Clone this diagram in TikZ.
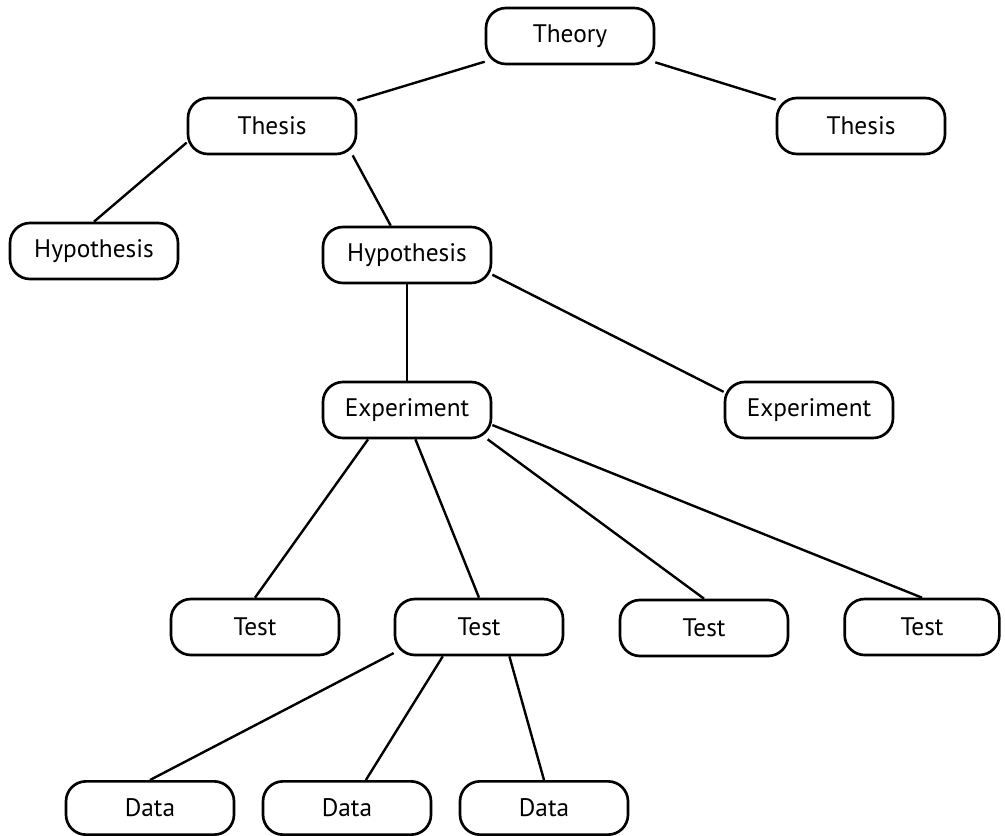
\documentclass[tikz,border=0pt]{standalone}
\usepackage{fontspec}
\setmainfont{PT Sans}
\begin{document}
\begin{tikzpicture}[x=0.75pt,y=-0.75pt,
  box/.style={draw=black, line width=2pt, rounded corners=15pt, fill=white,
    minimum width=126pt, minimum height=42pt, inner sep=0pt,
    font=\fontsize{19}{22}\selectfont},
  link/.style={line width=1.8pt, draw=black}]
\useasboundingbox (0,0) rectangle (1005,835);
\node[box] (theory) at (570,36) {Theory};
\node[box] (thL) at (272,126) {Thesis};
\node[box] (thR) at (861,126) {Thesis};
\node[box] (hypL) at (94,251) {Hypothesis};
\node[box] (hypM) at (407,255) {Hypothesis};
\node[box] (expM) at (407,410) {Experiment};
\node[box] (expR) at (809,410) {Experiment};
\node[box] (t1) at (255,627) {Test};
\node[box] (t2) at (479,627) {Test};
\node[box] (t3) at (704,628) {Test};
\node[box, minimum width=116pt] (t4) at (922,627) {Test};
\node[box, minimum height=40pt] (d1) at (150,808) {Data};
\node[box, minimum height=40pt] (d2) at (347,808) {Data};
\node[box, minimum height=40pt] (d3) at (544,808) {Data};
\draw[link] (theory) -- (thL);
\draw[link] (theory) -- (thR);
\draw[link] (thL.191) -- (hypL.north);
\draw[link] (thL.-20) -- (hypM.119);
\draw[link] (hypM.south) -- (expM.north);
\draw[link] (hypM.-13) -- (expR.168);
\draw[link] (expM.217) -- (t1.north);
\draw[link] (expM.-74) -- (t2.north);
\draw[link] (expM.-20) -- (t3.north);
\draw[link] (expM.-10) -- (t4.north);
\draw[link] (t2.197) -- (d1.north);
\draw[link] (t2.219) -- (d2.56);
\draw[link] (t2.-44) -- (d3.north);
\end{tikzpicture}
\end{document}
